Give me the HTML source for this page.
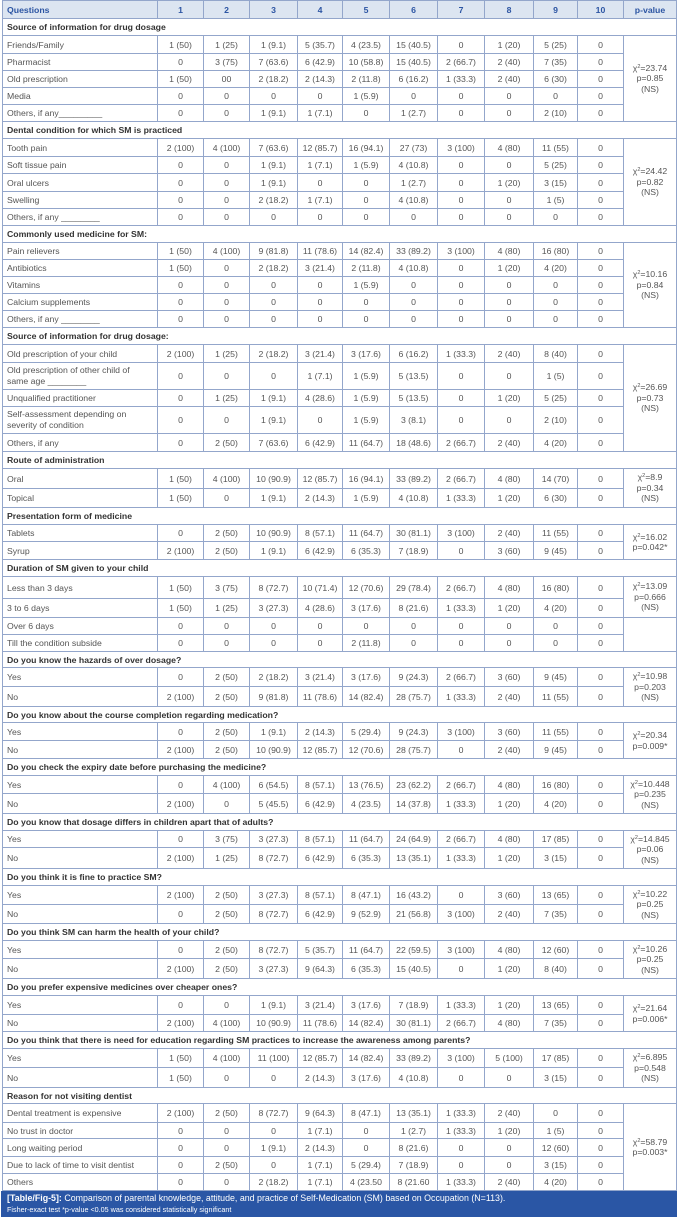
<!DOCTYPE html>
<html>
<head>
<meta charset="utf-8">
<style>
html,body{margin:0;padding:0;background:#fff;}
body{width:678px;height:1217px;position:relative;overflow:hidden;font-family:"Liberation Sans",Arial,sans-serif;}
.g{position:absolute;left:2px;top:0;display:grid;
grid-template-columns:154px 45px 45px 47px 44px 46px 47px 46px 48px 43px 45px 52px;
grid-template-rows:17px 16px 17px 16px 16px 16px 16px 16px 17px 16px 17px 16px 16px 16px 16px 16px 16px 16px 16px 16px 17px 26px 16px 26px 17px 16px 19px 18px 16px 16px 17px 16px 21px 18px 16px 16px 15px 18px 19px 15px 17px 17px 16px 17px 19px 16px 16px 20px 16px 18px 18px 16px 17px 19px 16px 18px 16px 16px 18px 19px 15px 18px 15px 17px 16px 16px;
gap:1px;padding:1px;background:#93a6cb;}
.g>div{background:#fff;display:flex;align-items:center;justify-content:center;font-size:8.7px;color:#555;white-space:nowrap;overflow:hidden;}
.g>div.q{justify-content:flex-start;padding-left:4px;}
.g>div.w{white-space:normal;line-height:11px;}
.g>div.s{grid-column:1/-1;justify-content:flex-start;padding-left:4px;font-weight:bold;color:#333;}
.g>div.h{background:#dce5f1;color:#2c55a3;font-weight:bold;}
.g>div.p{flex-direction:column;line-height:10.5px;text-align:center;}
.g>div.p2{grid-row:span 2;}
.g>div.p4{grid-row:span 4;}
.g>div.p5{grid-row:span 5;}
sup{font-size:5.5px;vertical-align:top;position:relative;top:-1px;}
.cap{position:absolute;left:1px;top:1191px;width:676px;height:26px;background:#2a56a5;color:#fff;}
.c1{position:absolute;left:6px;top:2px;font-size:8.85px;line-height:10px;white-space:nowrap;}
.c2{position:absolute;left:6px;top:14px;font-size:7.2px;line-height:9px;white-space:nowrap;}
</style>
</head>
<body>
<div class="g">
<div class="q h">Questions</div><div class="h">1</div><div class="h">2</div><div class="h">3</div><div class="h">4</div><div class="h">5</div><div class="h">6</div><div class="h">7</div><div class="h">8</div><div class="h">9</div><div class="h">10</div><div class="h">p-value</div>

<div class="s">Source of information for drug dosage</div>
<div class="q">Friends/Family</div><div>1 (50)</div><div>1 (25)</div><div>1 (9.1)</div><div>5 (35.7)</div><div>4 (23.5)</div><div>15 (40.5)</div><div>0</div><div>1 (20)</div><div>5 (25)</div><div>0</div><div class="p p5"><span>χ<sup>2</sup>=23.74</span><span>p=0.85</span><span>(NS)</span></div>
<div class="q">Pharmacist</div><div>0</div><div>3 (75)</div><div>7 (63.6)</div><div>6 (42.9)</div><div>10 (58.8)</div><div>15 (40.5)</div><div>2 (66.7)</div><div>2 (40)</div><div>7 (35)</div><div>0</div>
<div class="q">Old prescription</div><div>1 (50)</div><div>00</div><div>2 (18.2)</div><div>2 (14.3)</div><div>2 (11.8)</div><div>6 (16.2)</div><div>1 (33.3)</div><div>2 (40)</div><div>6 (30)</div><div>0</div>
<div class="q">Media</div><div>0</div><div>0</div><div>0</div><div>0</div><div>1 (5.9)</div><div>0</div><div>0</div><div>0</div><div>0</div><div>0</div>
<div class="q">Others, if any_________</div><div>0</div><div>0</div><div>1 (9.1)</div><div>1 (7.1)</div><div>0</div><div>1 (2.7)</div><div>0</div><div>0</div><div>2 (10)</div><div>0</div>

<div class="s">Dental condition for which SM is practiced</div>
<div class="q">Tooth pain</div><div>2 (100)</div><div>4 (100)</div><div>7 (63.6)</div><div>12 (85.7)</div><div>16 (94.1)</div><div>27 (73)</div><div>3 (100)</div><div>4 (80)</div><div>11 (55)</div><div>0</div><div class="p p5"><span>χ<sup>2</sup>=24.42</span><span>p=0.82</span><span>(NS)</span></div>
<div class="q">Soft tissue pain</div><div>0</div><div>0</div><div>1 (9.1)</div><div>1 (7.1)</div><div>1 (5.9)</div><div>4 (10.8)</div><div>0</div><div>0</div><div>5 (25)</div><div>0</div>
<div class="q">Oral ulcers</div><div>0</div><div>0</div><div>1 (9.1)</div><div>0</div><div>0</div><div>1 (2.7)</div><div>0</div><div>1 (20)</div><div>3 (15)</div><div>0</div>
<div class="q">Swelling</div><div>0</div><div>0</div><div>2 (18.2)</div><div>1 (7.1)</div><div>0</div><div>4 (10.8)</div><div>0</div><div>0</div><div>1 (5)</div><div>0</div>
<div class="q">Others, if any ________</div><div>0</div><div>0</div><div>0</div><div>0</div><div>0</div><div>0</div><div>0</div><div>0</div><div>0</div><div>0</div>

<div class="s">Commonly used medicine for SM:</div>
<div class="q">Pain relievers</div><div>1 (50)</div><div>4 (100)</div><div>9 (81.8)</div><div>11 (78.6)</div><div>14 (82.4)</div><div>33 (89.2)</div><div>3 (100)</div><div>4 (80)</div><div>16 (80)</div><div>0</div><div class="p p5"><span>χ<sup>2</sup>=10.16</span><span>p=0.84</span><span>(NS)</span></div>
<div class="q">Antibiotics</div><div>1 (50)</div><div>0</div><div>2 (18.2)</div><div>3 (21.4)</div><div>2 (11.8)</div><div>4 (10.8)</div><div>0</div><div>1 (20)</div><div>4 (20)</div><div>0</div>
<div class="q">Vitamins</div><div>0</div><div>0</div><div>0</div><div>0</div><div>1 (5.9)</div><div>0</div><div>0</div><div>0</div><div>0</div><div>0</div>
<div class="q">Calcium supplements</div><div>0</div><div>0</div><div>0</div><div>0</div><div>0</div><div>0</div><div>0</div><div>0</div><div>0</div><div>0</div>
<div class="q">Others, if any ________</div><div>0</div><div>0</div><div>0</div><div>0</div><div>0</div><div>0</div><div>0</div><div>0</div><div>0</div><div>0</div>

<div class="s">Source of information for drug dosage:</div>
<div class="q">Old prescription of your child</div><div>2 (100)</div><div>1 (25)</div><div>2 (18.2)</div><div>3 (21.4)</div><div>3 (17.6)</div><div>6 (16.2)</div><div>1 (33.3)</div><div>2 (40)</div><div>8 (40)</div><div>0</div><div class="p p5"><span>χ<sup>2</sup>=26.69</span><span>p=0.73</span><span>(NS)</span></div>
<div class="q w">Old prescription of other child of<br>same age ________</div><div>0</div><div>0</div><div>0</div><div>1 (7.1)</div><div>1 (5.9)</div><div>5 (13.5)</div><div>0</div><div>0</div><div>1 (5)</div><div>0</div>
<div class="q">Unqualified practitioner</div><div>0</div><div>1 (25)</div><div>1 (9.1)</div><div>4 (28.6)</div><div>1 (5.9)</div><div>5 (13.5)</div><div>0</div><div>1 (20)</div><div>5 (25)</div><div>0</div>
<div class="q w">Self-assessment depending on<br>severity of condition</div><div>0</div><div>0</div><div>1 (9.1)</div><div>0</div><div>1 (5.9)</div><div>3 (8.1)</div><div>0</div><div>0</div><div>2 (10)</div><div>0</div>
<div class="q">Others, if any</div><div>0</div><div>2 (50)</div><div>7 (63.6)</div><div>6 (42.9)</div><div>11 (64.7)</div><div>18 (48.6)</div><div>2 (66.7)</div><div>2 (40)</div><div>4 (20)</div><div>0</div>

<div class="s">Route of administration</div>
<div class="q">Oral</div><div>1 (50)</div><div>4 (100)</div><div>10 (90.9)</div><div>12 (85.7)</div><div>16 (94.1)</div><div>33 (89.2)</div><div>2 (66.7)</div><div>4 (80)</div><div>14 (70)</div><div>0</div><div class="p p2"><span>χ<sup>2</sup>=8.9</span><span>p=0.34</span><span>(NS)</span></div>
<div class="q">Topical</div><div>1 (50)</div><div>0</div><div>1 (9.1)</div><div>2 (14.3)</div><div>1 (5.9)</div><div>4 (10.8)</div><div>1 (33.3)</div><div>1 (20)</div><div>6 (30)</div><div>0</div>

<div class="s">Presentation form of medicine</div>
<div class="q">Tablets</div><div>0</div><div>2 (50)</div><div>10 (90.9)</div><div>8 (57.1)</div><div>11 (64.7)</div><div>30 (81.1)</div><div>3 (100)</div><div>2 (40)</div><div>11 (55)</div><div>0</div><div class="p p2"><span>χ<sup>2</sup>=16.02</span><span>p=0.042*</span></div>
<div class="q">Syrup</div><div>2 (100)</div><div>2 (50)</div><div>1 (9.1)</div><div>6 (42.9)</div><div>6 (35.3)</div><div>7 (18.9)</div><div>0</div><div>3 (60)</div><div>9 (45)</div><div>0</div>

<div class="s">Duration of SM given to your child</div>
<div class="q">Less than 3 days</div><div>1 (50)</div><div>3 (75)</div><div>8 (72.7)</div><div>10 (71.4)</div><div>12 (70.6)</div><div>29 (78.4)</div><div>2 (66.7)</div><div>4 (80)</div><div>16 (80)</div><div>0</div><div class="p p2"><span>χ<sup>2</sup>=13.09</span><span>p=0.666</span><span>(NS)</span></div>
<div class="q">3 to 6 days</div><div>1 (50)</div><div>1 (25)</div><div>3 (27.3)</div><div>4 (28.6)</div><div>3 (17.6)</div><div>8 (21.6)</div><div>1 (33.3)</div><div>1 (20)</div><div>4 (20)</div><div>0</div>
<div class="q">Over 6 days</div><div>0</div><div>0</div><div>0</div><div>0</div><div>0</div><div>0</div><div>0</div><div>0</div><div>0</div><div>0</div><div class="p p2"></div>
<div class="q">Till the condition subside</div><div>0</div><div>0</div><div>0</div><div>0</div><div>2 (11.8)</div><div>0</div><div>0</div><div>0</div><div>0</div><div>0</div>

<div class="s">Do you know the hazards of over dosage?</div>
<div class="q">Yes</div><div>0</div><div>2 (50)</div><div>2 (18.2)</div><div>3 (21.4)</div><div>3 (17.6)</div><div>9 (24.3)</div><div>2 (66.7)</div><div>3 (60)</div><div>9 (45)</div><div>0</div><div class="p p2"><span>χ<sup>2</sup>=10.98</span><span>p=0.203</span><span>(NS)</span></div>
<div class="q">No</div><div>2 (100)</div><div>2 (50)</div><div>9 (81.8)</div><div>11 (78.6)</div><div>14 (82.4)</div><div>28 (75.7)</div><div>1 (33.3)</div><div>2 (40)</div><div>11 (55)</div><div>0</div>

<div class="s">Do you know about the course completion regarding medication?</div>
<div class="q">Yes</div><div>0</div><div>2 (50)</div><div>1 (9.1)</div><div>2 (14.3)</div><div>5 (29.4)</div><div>9 (24.3)</div><div>3 (100)</div><div>3 (60)</div><div>11 (55)</div><div>0</div><div class="p p2"><span>χ<sup>2</sup>=20.34</span><span>p=0.009*</span></div>
<div class="q">No</div><div>2 (100)</div><div>2 (50)</div><div>10 (90.9)</div><div>12 (85.7)</div><div>12 (70.6)</div><div>28 (75.7)</div><div>0</div><div>2 (40)</div><div>9 (45)</div><div>0</div>

<div class="s">Do you check the expiry date before purchasing the medicine?</div>
<div class="q">Yes</div><div>0</div><div>4 (100)</div><div>6 (54.5)</div><div>8 (57.1)</div><div>13 (76.5)</div><div>23 (62.2)</div><div>2 (66.7)</div><div>4 (80)</div><div>16 (80)</div><div>0</div><div class="p p2"><span>χ<sup>2</sup>=10.448</span><span>p=0.235</span><span>(NS)</span></div>
<div class="q">No</div><div>2 (100)</div><div>0</div><div>5 (45.5)</div><div>6 (42.9)</div><div>4 (23.5)</div><div>14 (37.8)</div><div>1 (33.3)</div><div>1 (20)</div><div>4 (20)</div><div>0</div>

<div class="s">Do you know that dosage differs in children apart that of adults?</div>
<div class="q">Yes</div><div>0</div><div>3 (75)</div><div>3 (27.3)</div><div>8 (57.1)</div><div>11 (64.7)</div><div>24 (64.9)</div><div>2 (66.7)</div><div>4 (80)</div><div>17 (85)</div><div>0</div><div class="p p2"><span>χ<sup>2</sup>=14.845</span><span>p=0.06</span><span>(NS)</span></div>
<div class="q">No</div><div>2 (100)</div><div>1 (25)</div><div>8 (72.7)</div><div>6 (42.9)</div><div>6 (35.3)</div><div>13 (35.1)</div><div>1 (33.3)</div><div>1 (20)</div><div>3 (15)</div><div>0</div>

<div class="s">Do you think it is fine to practice SM?</div>
<div class="q">Yes</div><div>2 (100)</div><div>2 (50)</div><div>3 (27.3)</div><div>8 (57.1)</div><div>8 (47.1)</div><div>16 (43.2)</div><div>0</div><div>3 (60)</div><div>13 (65)</div><div>0</div><div class="p p2"><span>χ<sup>2</sup>=10.22</span><span>p=0.25</span><span>(NS)</span></div>
<div class="q">No</div><div>0</div><div>2 (50)</div><div>8 (72.7)</div><div>6 (42.9)</div><div>9 (52.9)</div><div>21 (56.8)</div><div>3 (100)</div><div>2 (40)</div><div>7 (35)</div><div>0</div>

<div class="s">Do you think SM can harm the health of your child?</div>
<div class="q">Yes</div><div>0</div><div>2 (50)</div><div>8 (72.7)</div><div>5 (35.7)</div><div>11 (64.7)</div><div>22 (59.5)</div><div>3 (100)</div><div>4 (80)</div><div>12 (60)</div><div>0</div><div class="p p2"><span>χ<sup>2</sup>=10.26</span><span>p=0.25</span><span>(NS)</span></div>
<div class="q">No</div><div>2 (100)</div><div>2 (50)</div><div>3 (27.3)</div><div>9 (64.3)</div><div>6 (35.3)</div><div>15 (40.5)</div><div>0</div><div>1 (20)</div><div>8 (40)</div><div>0</div>

<div class="s">Do you prefer expensive medicines over cheaper ones?</div>
<div class="q">Yes</div><div>0</div><div>0</div><div>1 (9.1)</div><div>3 (21.4)</div><div>3 (17.6)</div><div>7 (18.9)</div><div>1 (33.3)</div><div>1 (20)</div><div>13 (65)</div><div>0</div><div class="p p2"><span>χ<sup>2</sup>=21.64</span><span>p=0.006*</span></div>
<div class="q">No</div><div>2 (100)</div><div>4 (100)</div><div>10 (90.9)</div><div>11 (78.6)</div><div>14 (82.4)</div><div>30 (81.1)</div><div>2 (66.7)</div><div>4 (80)</div><div>7 (35)</div><div>0</div>

<div class="s">Do you think that there is need for education regarding SM practices to increase the awareness among parents?</div>
<div class="q">Yes</div><div>1 (50)</div><div>4 (100)</div><div>11 (100)</div><div>12 (85.7)</div><div>14 (82.4)</div><div>33 (89.2)</div><div>3 (100)</div><div>5 (100)</div><div>17 (85)</div><div>0</div><div class="p p2"><span>χ<sup>2</sup>=6.895</span><span>p=0.548</span><span>(NS)</span></div>
<div class="q">No</div><div>1 (50)</div><div>0</div><div>0</div><div>2 (14.3)</div><div>3 (17.6)</div><div>4 (10.8)</div><div>0</div><div>0</div><div>3 (15)</div><div>0</div>

<div class="s">Reason for not visiting dentist</div>
<div class="q">Dental treatment is expensive</div><div>2 (100)</div><div>2 (50)</div><div>8 (72.7)</div><div>9 (64.3)</div><div>8 (47.1)</div><div>13 (35.1)</div><div>1 (33.3)</div><div>2 (40)</div><div>0</div><div>0</div><div class="p p5"><span>χ<sup>2</sup>=58.79</span><span>p=0.003*</span></div>
<div class="q">No trust in doctor</div><div>0</div><div>0</div><div>0</div><div>1 (7.1)</div><div>0</div><div>1 (2.7)</div><div>1 (33.3)</div><div>1 (20)</div><div>1 (5)</div><div>0</div>
<div class="q">Long waiting period</div><div>0</div><div>0</div><div>1 (9.1)</div><div>2 (14.3)</div><div>0</div><div>8 (21.6)</div><div>0</div><div>0</div><div>12 (60)</div><div>0</div>
<div class="q">Due to lack of time to visit dentist</div><div>0</div><div>2 (50)</div><div>0</div><div>1 (7.1)</div><div>5 (29.4)</div><div>7 (18.9)</div><div>0</div><div>0</div><div>3 (15)</div><div>0</div>
<div class="q">Others</div><div>0</div><div>0</div><div>2 (18.2)</div><div>1 (7.1)</div><div>4 (23.50</div><div>8 (21.60</div><div>1 (33.3)</div><div>2 (40)</div><div>4 (20)</div><div>0</div>
</div>
<div class="cap">
<div class="c1"><b>[Table/Fig-5]:</b> Comparison of parental knowledge, attitude, and practice of Self-Medication (SM) based on Occupation (N=113).</div>
<div class="c2">Fisher-exact test *p-value &lt;0.05 was considered statistically significant</div>
</div>
</body>
</html>
